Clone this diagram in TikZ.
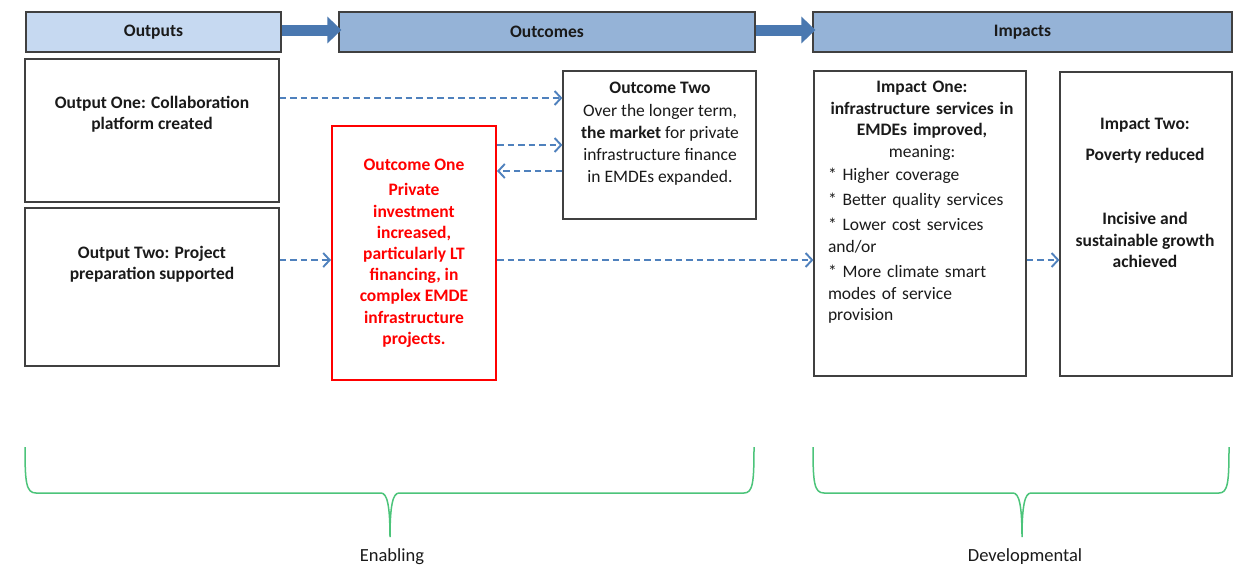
\documentclass[tikz,border=0pt]{standalone}
\usepackage{fontspec}
\setmainfont{Carlito}
\usetikzlibrary{positioning, arrows.meta}
\definecolor{headlight}{HTML}{C6D9F1}
\definecolor{headmid}{HTML}{95B3D7}
\definecolor{boxline}{HTML}{404040}
\definecolor{flowblue}{HTML}{4F81BD}
\definecolor{bigblue}{HTML}{4A78B0}
\definecolor{alertred}{HTML}{FF0000}
\definecolor{bracegreen}{HTML}{4CC47A}
\definecolor{textdark}{HTML}{1A1A1A}

\begin{document}
\begin{tikzpicture}[
    x=1pt, y=-1pt,
    font=\fontsize{17.5}{21.5}\selectfont,
    % Styles
    header/.style={
        rectangle,
        draw=boxline,
        line width=1.2pt,
        minimum height=40pt,
        inner sep=0pt,
        text=textdark,
        font=\fontsize{17.5}{20}\selectfont\bfseries
    },
    box/.style={
        rectangle,
        draw=boxline,
        fill=white,
        line width=1.2pt,
        inner sep=0pt
    },
    redbox/.style={
        rectangle,
        draw=alertred,
        fill=white,
        line width=2pt,
        inner sep=0pt,
        align=center,
        text=alertred,
        font=\fontsize{17.5}{21.2}\selectfont\bfseries
    },
    txt/.style={
        inner sep=0pt,
        text=textdark
    },
    bold/.style={
        font=\fontsize{17.5}{21.5}\selectfont\bfseries
    },
    bigarrow/.style={
        draw=bigblue,
        line width=11pt,
        -{Triangle[length=14pt, width=26pt]},
        shorten >=-3pt
    },
    flow/.style={
        draw=flowblue,
        line width=1.9pt,
        dash pattern=on 6.5pt off 4pt,
        -{Straight Barb[length=6.5pt, width=14pt, line width=1.9pt]}
    },
    bracket/.style={
        draw=bracegreen,
        line width=1.5pt
    }
]

    \fill[white] (0,0) rectangle (1248,584);
    \useasboundingbox (0,0) rectangle (1248,584);

    % ================= HEADERS =================
    \node[header, fill=headlight, minimum width=255pt] (outputs) at (153.5,32) {Outputs};
    \node[header, fill=headmid, minimum width=416pt] (outcomes) at (547,32) {Outcomes};
    \node[header, fill=headmid, minimum width=419pt] (impacts) at (1022.5,32) {Impacts};

    \draw[bigarrow] ([yshift=2pt]outputs.east) -- ([yshift=2pt]outcomes.west);
    \draw[bigarrow] ([yshift=2pt]outcomes.east) -- ([yshift=2pt]impacts.west);

    % ================= OUTPUTS =================
    \node[box, minimum width=254pt, minimum height=143pt] (out1) at (152,130.5) {};
    \node[txt, bold, align=center] (out1txt) at (152,114) {Output One: Collaboration\\platform created};

    \node[box, minimum width=254pt, minimum height=158pt] (out2) at (152,287) {};
    \node[txt, bold, align=center] (out2txt) at (152,264) {Output Two: Project\\preparation supported};

    % ================= OUTCOMES =================
    \node[redbox, minimum width=164pt, minimum height=254pt] (oc1) at (414,253)
        {Outcome One\\[4.5pt]Private\\investment\\increased,\\particularly LT\\financing, in\\complex EMDE\\infrastructure\\projects.};

    \node[box, minimum width=193pt, minimum height=148pt] (oc2) at (659.5,145) {};
    \node[txt, align=center, anchor=north, font=\fontsize{17.5}{22}\selectfont] (oc2txt) at (660,82)
        {\textbf{Outcome Two}\\[1pt]Over the longer term,\\\textbf{the market} for private\\infrastructure finance\\in EMDEs expanded.};

    % ================= IMPACTS =================
    \node[box, minimum width=212pt, minimum height=305pt] (imp1) at (920,223.5) {};
    \node[txt, text width=188pt, anchor=north] (imp1txt) at (922,81)
        {\centering\textbf{Impact One:\\infrastructure services in\\EMDEs improved,}\\meaning:\par
         \raggedright\vspace{2pt}* Higher coverage\par
         \vspace{3pt}* Better quality services\par
         \vspace{4pt}* Lower cost services\\and/or\par
         \vspace{4pt}* More climate smart\\modes of service\\provision\par};

    \node[box, minimum width=172pt, minimum height=304pt] (imp2) at (1146,224) {};
    \node[txt, bold, align=center, anchor=north] (imp2txt) at (1145,118)
        {Impact Two:\\[9pt]Poverty reduced\\[43pt]Incisive and\\sustainable growth\\achieved};

    % ================= CONNECTIONS =================
    \draw[flow] (out1.east |- 0,98) -- (oc2.west |- 0,98);
    \draw[flow] (oc1.east |- 0,145) -- (oc2.west |- 0,145);
    \draw[flow] (oc2.west |- 0,171) -- (oc1.east |- 0,171);
    \draw[flow] (out2.east |- 0,260) -- (oc1.west |- 0,260);
    \draw[flow] (oc1.east |- 0,260) -- (imp1.west |- 0,260);
    \draw[flow] (imp1.east |- 0,260) -- (imp2.west |- 0,260);

    % ================= BRACES =================
    \draw[bracket] (25,447) .. controls (25,482) and (26,493) .. (36,493) -- (381,493)
        .. controls (387,493) and (390,505) .. (390,537)
        .. controls (390,505) and (393,493) .. (399,493) -- (744,493)
        .. controls (753,493) and (754,482) .. (754,447);
    \draw[bracket] (813,447) .. controls (813,482) and (814,493) .. (824,493) -- (1013,493)
        .. controls (1019,493) and (1022,505) .. (1022,537)
        .. controls (1022,505) and (1025,493) .. (1031,493) -- (1219,493)
        .. controls (1228,493) and (1229,482) .. (1229,447);

    \node[txt, font=\fontsize{18.5}{22}\selectfont] (enabling) at (392,557) {Enabling};
    \node[txt, font=\fontsize{18.5}{22}\selectfont] (developmental) at (1025,557) {Developmental};

\end{tikzpicture}
\end{document}
